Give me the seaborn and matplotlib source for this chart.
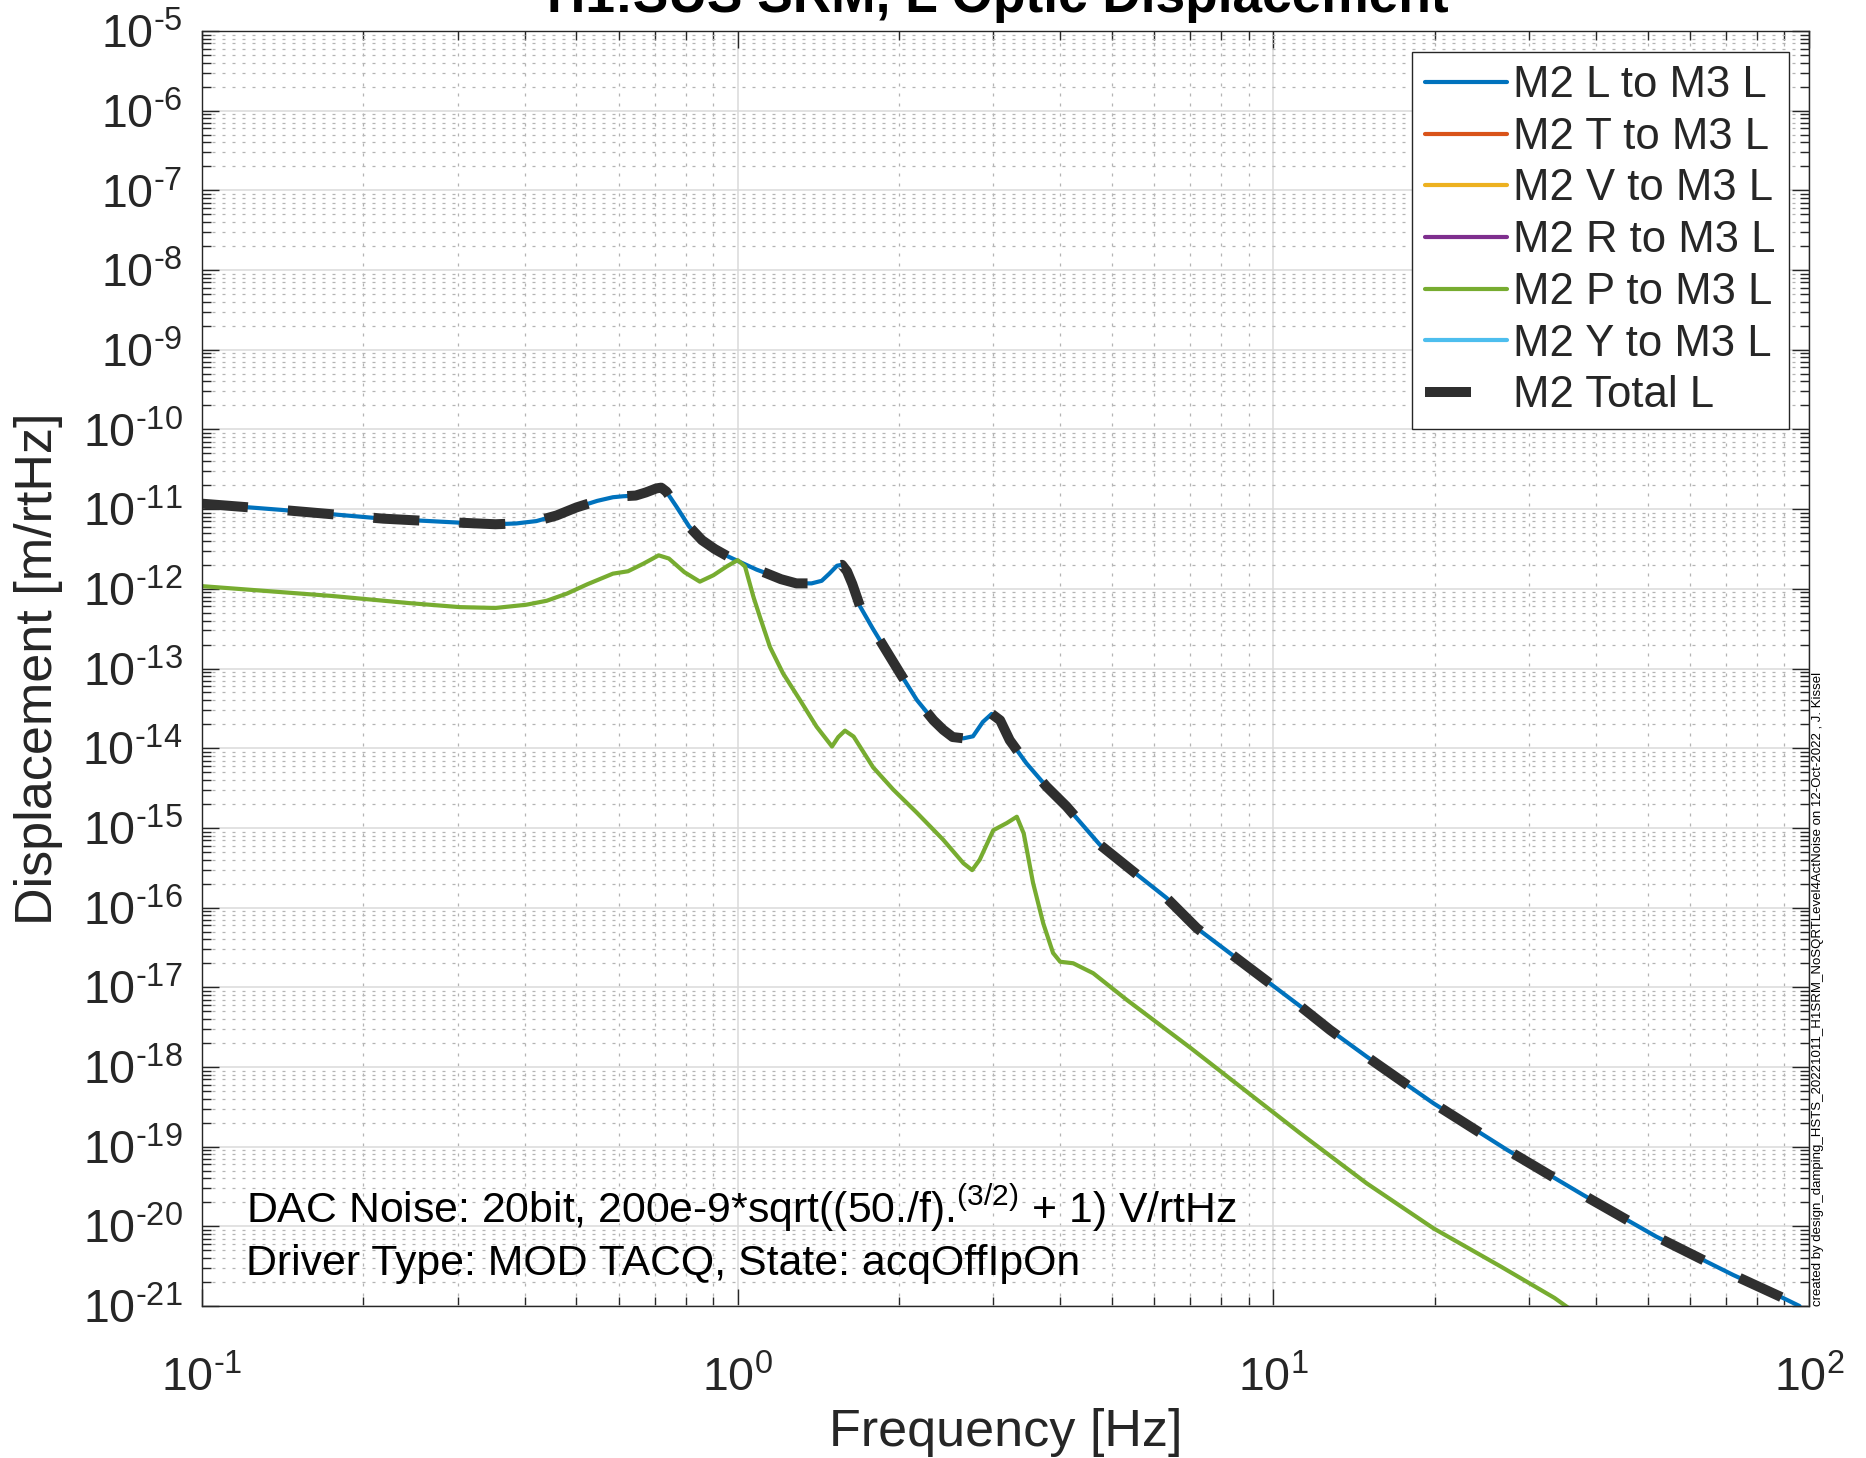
import matplotlib
matplotlib.use("Agg")
import matplotlib.pyplot as plt
import seaborn as sns
from matplotlib.ticker import LogLocator, NullFormatter, FuncFormatter
import numpy as np

# M2 L drive -> M3 L optic displacement [m/rtHz]
L_freq = [0.100, 0.141, 0.218, 0.303, 0.353, 0.386, 0.421, 0.459, 0.500, 0.547,
          0.585, 0.611, 0.645, 0.674, 0.705, 0.720, 0.736, 0.769, 0.812, 0.858,
          0.906, 0.957, 1.000, 1.085, 1.128, 1.205, 1.287, 1.374, 1.435, 1.483,
          1.533, 1.566, 1.600, 1.637, 1.692, 1.788, 2.010, 2.160, 2.320, 2.420,
          2.520, 2.640, 2.750, 2.870, 2.980, 3.090, 3.220, 3.460, 3.770, 4.110,
          4.740, 5.480, 6.320, 7.200, 11.21, 12.76, 14.93, 19.90, 27.30, 37.90,
          51.90, 72.20, 88.20, 96.00]
L_disp = [1.17e-11, 9.77e-12, 7.59e-12, 6.76e-12, 6.46e-12, 6.61e-12, 7.08e-12, 8.32e-12, 1.05e-11, 1.27e-11,
          1.41e-11, 1.45e-11, 1.48e-11, 1.62e-11, 1.82e-11, 1.86e-11, 1.66e-11, 1.07e-11, 6.03e-12, 4.07e-12,
          3.16e-12, 2.57e-12, 2.24e-12, 1.74e-12, 1.58e-12, 1.32e-12, 1.17e-12, 1.17e-12, 1.26e-12, 1.55e-12,
          1.95e-12, 2.00e-12, 1.66e-12, 1.15e-12, 6.03e-13, 3.16e-13, 8.71e-14, 4.03e-14, 2.24e-14, 1.70e-14,
          1.38e-14, 1.33e-14, 1.41e-14, 2.14e-14, 2.69e-14, 2.24e-14, 1.26e-14, 6.46e-15, 3.31e-15, 1.86e-15,
          6.17e-16, 2.82e-16, 1.32e-16, 5.50e-17, 5.82e-18, 2.91e-18, 1.35e-18, 3.50e-19, 9.12e-20, 2.47e-20,
          7.41e-21, 2.45e-21, 1.32e-21, 1.00e-21]

# M2 T, V, R, Y drives -> M3 L (no coupling above the plotted floor)
T_freq, T_disp = [], []
V_freq, V_disp = [], []
R_freq, R_disp = [], []
Y_freq, Y_disp = [], []

# M2 P drive -> M3 L
P_freq = [0.100, 0.175, 0.244, 0.303, 0.353, 0.403, 0.440, 0.480, 0.524, 0.585,
          0.624, 0.667, 0.712, 0.744, 0.795, 0.850, 0.901, 0.954, 1.000, 1.032,
          1.070, 1.100, 1.149, 1.215, 1.307, 1.404, 1.500, 1.541, 1.586, 1.646,
          1.790, 1.952, 2.160, 2.420, 2.640, 2.740, 2.830, 3.000, 3.180, 3.320,
          3.420, 3.560, 3.720, 3.880, 4.000, 4.230, 4.610, 5.330, 7.000, 11.21,
          14.93, 19.90, 26.60, 33.50, 36.00]
P_disp = [1.08e-12, 8.13e-13, 6.61e-13, 5.89e-13, 5.75e-13, 6.31e-13, 7.08e-13, 8.71e-13, 1.14e-12, 1.55e-12,
          1.66e-12, 2.07e-12, 2.63e-12, 2.40e-12, 1.62e-12, 1.23e-12, 1.48e-12, 1.91e-12, 2.29e-12, 1.91e-12,
          7.94e-13, 4.47e-13, 1.86e-13, 8.71e-14, 4.03e-14, 1.86e-14, 1.05e-14, 1.38e-14, 1.66e-14, 1.40e-14,
          5.75e-15, 3.02e-15, 1.55e-15, 7.08e-16, 3.59e-16, 2.95e-16, 3.98e-16, 9.33e-16, 1.15e-15, 1.38e-15,
          8.51e-16, 2.04e-16, 6.31e-17, 2.69e-17, 2.09e-17, 2.00e-17, 1.50e-17, 6.92e-18, 1.74e-18, 1.48e-19,
          3.47e-20, 9.44e-21, 3.12e-21, 1.26e-21, 8.91e-22]

# Quadrature total of all M2 drives -> M3 L
TOT_freq = L_freq
TOT_disp = [1.17e-11, 9.77e-12, 7.59e-12, 6.76e-12, 6.46e-12, 6.61e-12, 7.08e-12, 8.32e-12, 1.05e-11, 1.27e-11,
            1.41e-11, 1.45e-11, 1.48e-11, 1.62e-11, 1.82e-11, 1.86e-11, 1.66e-11, 1.07e-11, 6.03e-12, 4.07e-12,
            3.16e-12, 2.57e-12, 2.40e-12, 1.74e-12, 1.58e-12, 1.32e-12, 1.17e-12, 1.17e-12, 1.26e-12, 1.55e-12,
            1.95e-12, 2.00e-12, 1.66e-12, 1.15e-12, 6.03e-13, 3.16e-13, 8.71e-14, 4.03e-14, 2.24e-14, 1.70e-14,
            1.38e-14, 1.33e-14, 1.41e-14, 2.14e-14, 2.69e-14, 2.24e-14, 1.26e-14, 6.46e-15, 3.31e-15, 1.86e-15,
            6.17e-16, 2.82e-16, 1.32e-16, 5.50e-17, 5.82e-18, 2.91e-18, 1.35e-18, 3.50e-19, 9.12e-20, 2.47e-20,
            7.41e-21, 2.45e-21, 1.32e-21, 1.00e-21]

series_names = ["M2 L to M3 L", "M2 T to M3 L", "M2 V to M3 L", "M2 R to M3 L",
                "M2 P to M3 L", "M2 Y to M3 L", "M2 Total L"]
series_colors = ["#0072BD", "#D95319", "#EDB120", "#7E2F8E", "#77AC30", "#4DBEEE", "#2f2f2f"]

x_limits = (0.1, 100)
y_limits = (1e-21, 1e-5)

title_text = "H1:SUS SRM, L Optic Displacement"
x_label = "Frequency [Hz]"
y_label = "Displacement [m/rtHz]"
note_lines = [r"DAC Noise: 20bit, 200e-9*sqrt((50./f).$^{(3/2)}$ + 1) V/rtHz",
              "Driver Type: MOD TACQ, State: acqOffIpOn"]
credit_text = ("created by design_damping_HSTS_20221011_H1SRM_NoSQRTLevel4ActNoise "
               "on 12-Oct-2022 , J. Kissel")

sns.set_style("ticks")
plt.rcParams["font.family"] = ["Liberation Sans", "DejaVu Sans"]
plt.rcParams["mathtext.fontset"] = "custom"
plt.rcParams["mathtext.rm"] = "Liberation Sans"
plt.rcParams["mathtext.it"] = "Liberation Sans:italic"
plt.rcParams["mathtext.bf"] = "Liberation Sans:bold"

W, H = 1866, 1458
fig = plt.figure(figsize=(W / 100, H / 100), dpi=100)
ax_l, ax_r, ax_t, ax_b = 202, 1809, 31, 1306
ax = fig.add_axes([ax_l / W, 1 - ax_b / H, (ax_r - ax_l) / W, (ax_b - ax_t) / H])

ax.set_xscale("log")
ax.set_yscale("log")

data = [(L_freq, L_disp), (T_freq, T_disp), (V_freq, V_disp), (R_freq, R_disp),
        (P_freq, P_disp), (Y_freq, Y_disp)]
handles = []
for (fx, dy), name, col in zip(data, series_names[:-1], series_colors[:-1]):
    if len(fx):
        sns.lineplot(x=fx, y=dy, ax=ax, color=col, lw=3.0, estimator=None,
                     sort=False, legend=False)
        ln = ax.get_lines()[-1]
    else:
        ln, = ax.plot(fx, dy, color=col, lw=3.0)
    ln.set_label(name)
    ln.set_solid_joinstyle("round")
    handles.append(ln)

sns.lineplot(x=TOT_freq, y=TOT_disp, ax=ax, color=series_colors[-1], lw=7.2,
             estimator=None, sort=False, legend=False)
tot = ax.get_lines()[-1]
tot.set_linestyle((0, (4.6, 4.0)))
tot.set_dash_capstyle("butt")
tot.set_dash_joinstyle("round")
tot.set_label(series_names[-1])
handles.append(tot)

ax.set_xlim(*x_limits)
ax.set_ylim(*y_limits)


def decade_label(v, pos):
    e = int(round(np.log10(v)))
    s = str(e).replace("-", r"\text{-}")
    return r"$10^{%s}$" % s


ax.xaxis.set_major_locator(LogLocator(base=10, numticks=20))
ax.xaxis.set_minor_locator(LogLocator(base=10, subs=np.arange(2, 10), numticks=100))
ax.yaxis.set_major_locator(LogLocator(base=10, numticks=40))
ax.yaxis.set_minor_locator(LogLocator(base=10, subs=np.arange(2, 10), numticks=400))
ax.xaxis.set_major_formatter(FuncFormatter(decade_label))
ax.yaxis.set_major_formatter(FuncFormatter(decade_label))
ax.xaxis.set_minor_formatter(NullFormatter())
ax.yaxis.set_minor_formatter(NullFormatter())

ax.set_axisbelow(True)
ax.grid(which="major", color="#dadada", lw=1.1, ls="-")
ax.grid(which="minor", color="#b4b4b4", lw=0.9, ls=(0, (2.4, 5.6)))

axis_col = "#262626"
for sp in ax.spines.values():
    sp.set_color(axis_col)
    sp.set_linewidth(1.0)
ax.tick_params(which="both", direction="in", top=True, right=True,
               colors=axis_col, width=1.0, labelsize=33.5)
ax.tick_params(which="major", length=12)
ax.tick_params(which="minor", length=6.5)
ax.tick_params(axis="x", which="major", pad=36)
ax.tick_params(axis="y", which="major", pad=14)

ax.set_xlabel(x_label, fontsize=37.5, color=axis_col)
ax.set_ylabel(y_label, fontsize=37.5, color=axis_col)
ax.xaxis.set_label_coords(0.5, (ax_b - 1408) / (ax_b - ax_t))
ax.yaxis.set_label_coords((63 - ax_l) / (ax_r - ax_l), 0.5)

leg = ax.legend(handles=handles, labels=series_names, loc="upper right",
                bbox_to_anchor=(1789 / W, 1 - 52 / H), bbox_transform=fig.transFigure,
                fontsize=31.4, frameon=True, fancybox=False, framealpha=1,
                edgecolor=axis_col, borderaxespad=0, labelspacing=0.245,
                handlelength=1.88, handletextpad=0.15, borderpad=0.3)
leg.get_frame().set_linewidth(1.0)

ax.text((246 - ax_l) / (ax_r - ax_l), (ax_b - 1223) / (ax_b - ax_t), note_lines[0],
        transform=ax.transAxes, fontsize=30.8, va="baseline", ha="left", color="black")
ax.text((246 - ax_l) / (ax_r - ax_l), (ax_b - 1275) / (ax_b - ax_t), note_lines[1],
        transform=ax.transAxes, fontsize=30.8, va="baseline", ha="left", color="black")

fig.text(0.535, 1 - 12 / H, title_text, fontsize=38.3, fontweight="bold",
         ha="center", va="baseline", color="black")
fig.text(1818 / W, 1 - ax_b / H, credit_text, rotation=90, fontsize=9.5,
         ha="center", va="bottom", color="black")

fig.savefig("out.png", dpi=100)
